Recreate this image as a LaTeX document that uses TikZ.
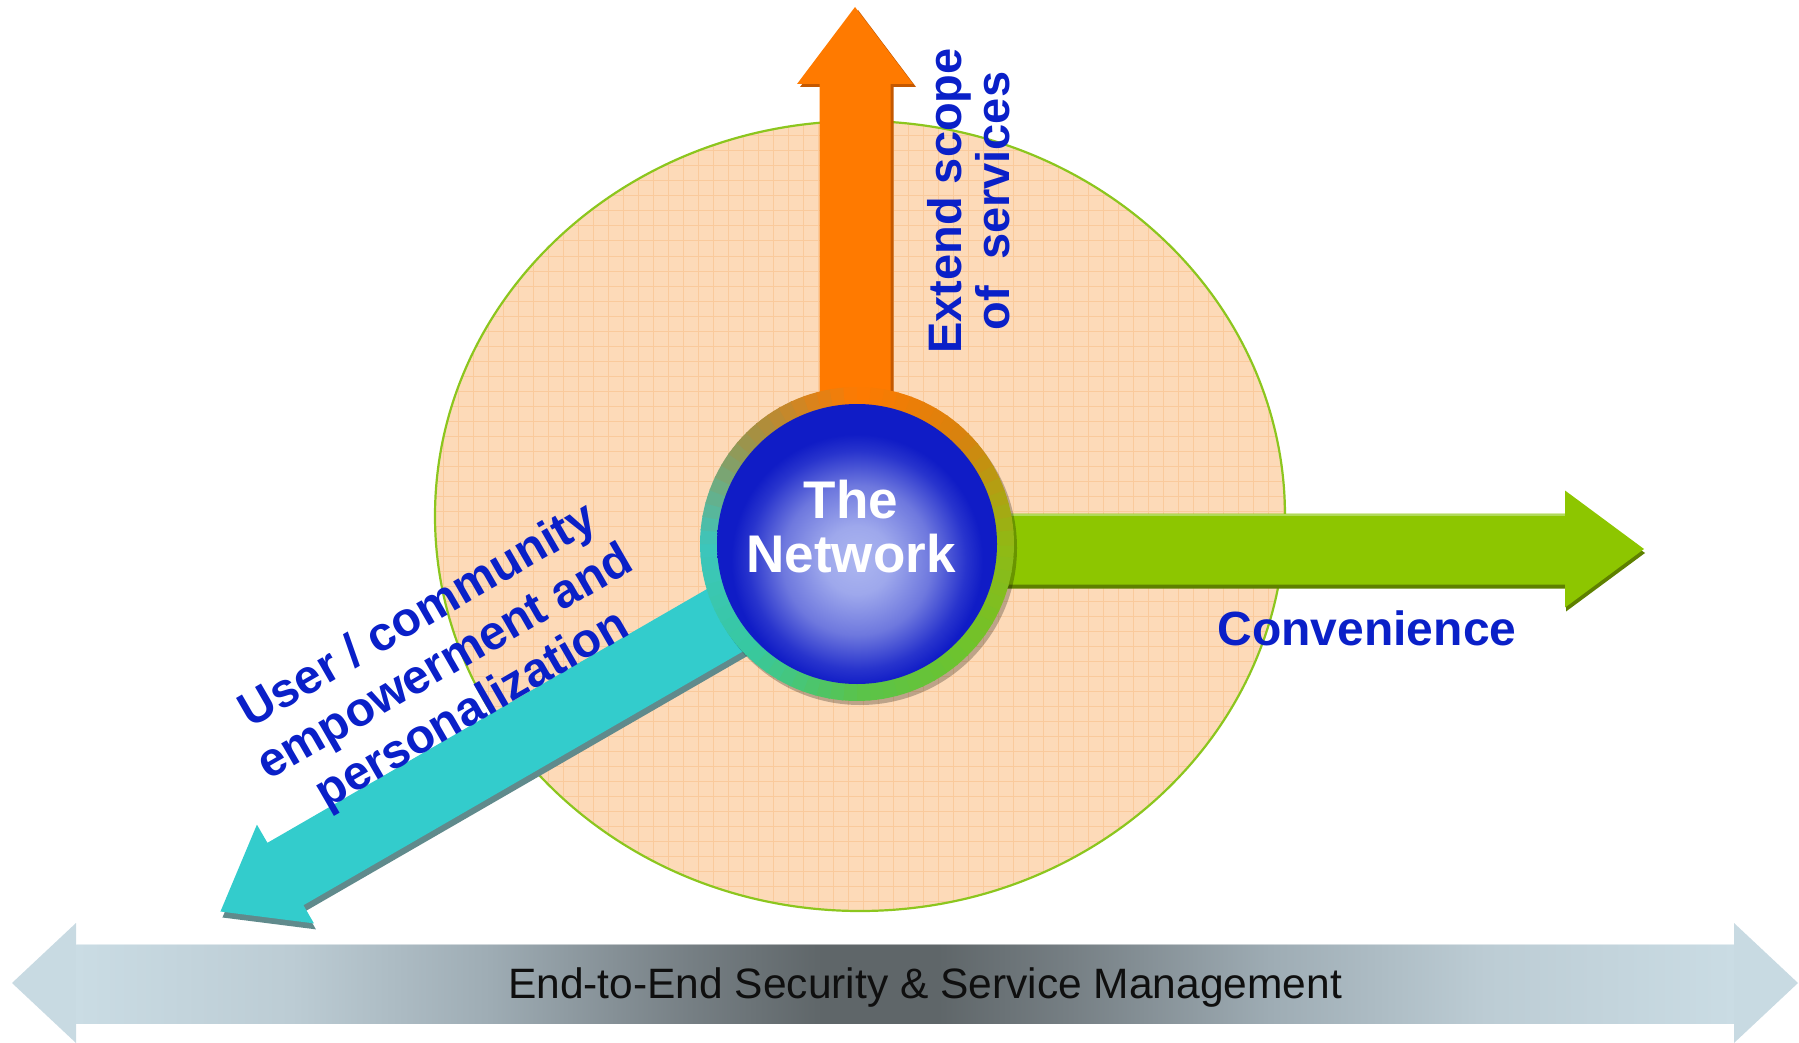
\documentclass[tikz,border=0pt]{standalone}
\usepackage{fontspec}
\setmainfont{Liberation Sans}

% palette
\definecolor{tblue}{RGB}{10,32,200}
\definecolor{peach}{RGB}{253,218,184}
\definecolor{gridc}{RGB}{250,202,156}
\definecolor{discedge}{RGB}{140,198,30}
\definecolor{orA}{RGB}{255,122,0}
\definecolor{orS}{RGB}{196,88,0}
\definecolor{grA}{RGB}{141,198,0}
\definecolor{grS}{RGB}{94,128,0}
\definecolor{grL}{RGB}{176,218,90}
\definecolor{tlA}{RGB}{51,204,204}
\definecolor{tlS}{RGB}{96,138,140}
% ring colours, clockwise on screen starting at the right
\definecolor{rgA}{RGB}{145,185,20}
\definecolor{rgB}{RGB}{110,195,45}
\definecolor{rgC}{RGB}{90,195,75}
\definecolor{rgD}{RGB}{55,200,160}
\definecolor{rgE}{RGB}{60,198,188}
\definecolor{rgF}{RGB}{160,145,70}
\definecolor{rgG}{RGB}{255,122,0}
\definecolor{rgH}{RGB}{215,130,15}
% sphere
\definecolor{sphA}{RGB}{172,182,240}
\definecolor{sphB}{RGB}{158,168,236}
\definecolor{sphC}{RGB}{110,120,222}
\definecolor{sphD}{RGB}{40,52,205}
\definecolor{sphE}{RGB}{16,28,198}
% management bar
\definecolor{barE}{RGB}{202,220,228}
\definecolor{barB}{RGB}{188,204,212}
\definecolor{barC}{RGB}{158,172,180}
\definecolor{barD}{RGB}{118,127,132}
\definecolor{barM}{RGB}{95,102,105}
\definecolor{barhead}{RGB}{200,218,226}
\definecolor{ink}{RGB}{15,15,15}

\pgfdeclareradialshading{sphereglow}{\pgfpoint{0bp}{0bp}}{%
  color(0bp)=(sphA); color(5bp)=(sphB); color(11bp)=(sphC);
  color(16bp)=(sphD); color(18.5bp)=(sphE); color(50bp)=(sphE)}

\pgfdeclarehorizontalshading{steelbar}{100bp}{%
  color(0bp)=(barE); color(25bp)=(barE); color(31.5bp)=(barB);
  color(37.5bp)=(barC); color(43.5bp)=(barD); color(47.5bp)=(barM);
  color(51bp)=(barM); color(55bp)=(barD); color(61bp)=(barC);
  color(67.5bp)=(barB); color(75bp)=(barE); color(100bp)=(barE)}

% block arrow along local x: shaft length, head half width, tip, shaft half width
\newcommand\arrowoutline[4]{(0,-#4) -- (#1,-#4) -- (#1,-#2) -- (#3,0) -- (#1,#2) -- (#1,#4) -- (0,#4) -- cycle}

\begin{document}
\begin{tikzpicture}[x=1pt,y=-1pt,
  bluelabel/.style={text=tblue, align=center, inner sep=0pt},
  whitelabel/.style={text=white, align=center, inner sep=0pt},
  gridline/.style={gridc, line width=1}]
\useasboundingbox (0,0) rectangle (1799,1043);

% gridded disc
\begin{scope}
  \clip (860,516) ellipse [x radius=425, y radius=395];
  \fill[peach] (430,115) rectangle (1290,915);
  \foreach \gx in {443,458,...,1285} \draw[gridline] (\gx,115) -- (\gx,915);
  \foreach \gy in {121,136,...,915} \draw[gridline] (430,\gy) -- (1290,\gy);
\end{scope}
\draw[discedge, line width=2.2] (860,516) ellipse [x radius=425, y radius=395];

% three arrows leaving the hub (shadow first, then body)
\fill[orS, shift={(858,547)}, rotate=90] \arrowoutline{460}{58}{537}{35.5};
\fill[orA, shift={(855,544)}, rotate=90] \arrowoutline{460}{58}{537}{35.5};

\fill[grS, shift={(858,553)}, rotate=0] \arrowoutline{708}{58.5}{787}{35.5};
\fill[grA, shift={(857,549)}, rotate=0] \arrowoutline{708}{58.5}{787}{35.5};
\draw[grL, line width=2] (950,514.5) -- (1565,514.5);

\fill[tlS, shift={(859,550)}, rotate=210] \arrowoutline{660}{57}{735}{36};
\fill[tlA, shift={(857,544)}, rotate=210] \arrowoutline{660}{57}{735}{36};

% hub ring with its colour sweep
\fill[black, opacity=0.25] (860,548) circle (157);
\begin{scope}[shift={(857,544)}]
  \foreach \a/\ca/\cb in {0/rgA/rgB,45/rgB/rgC,90/rgC/rgD,135/rgD/rgE,
                          180/rgE/rgF,225/rgF/rgG,270/rgG/rgH,315/rgH/rgA}{
    \foreach \k in {0,...,8}{
      \pgfmathsetmacro\sA{\a+5*\k}
      \pgfmathsetmacro\sB{\sA+2.8}
      \pgfmathsetmacro\sC{\sA+5.6}
      \pgfmathtruncatemacro\mixp{100-100*(\k+0.5)/9}
      \fill[\ca!\mixp!\cb] (\sA:128) -- (\sA:157) -- (\sB:157) -- (\sC:157) -- (\sC:128) -- cycle;
    }
  }
\end{scope}

% blue sphere
\begin{scope}
  \clip (857,544) circle (140);
  \shade[shading=sphereglow] (857,560) circle (170);
\end{scope}

% labels
\node[whitelabel, font=\bfseries\fontsize{53}{54}\selectfont] (net) at (851,527) {The\\Network};
\node[bluelabel, rotate=90, font=\bfseries\fontsize{47}{48}\selectfont] (svc) at (969,201) {Extend scope\\of\ \ services};
\node[bluelabel, anchor=base, font=\bfseries\fontsize{48}{55}\selectfont] (conv) at (1367,645) {Convenience};
\node[bluelabel, rotate=30, font=\bfseries\fontsize{48}{54}\selectfont] (user) at (446,664) {User / community\\empowerment and\\personalization};

% end-to-end management bar
\fill[barhead] (76,923) -- (12,983) -- (76,1043) -- cycle;
\fill[barhead] (1734,923) -- (1798,983) -- (1734,1043) -- cycle;
\shade[shading=steelbar] (76,944) rectangle (1734,1023);
\draw[white, opacity=0.5, line width=1.2] (76,944.6) -- (1734,944.6);
\node[text=ink, anchor=base, inner sep=0pt, font=\fontsize{42.5}{50}\selectfont] (mgmt) at (925,998) {End-to-End Security \& Service Management};
\end{tikzpicture}
\end{document}
